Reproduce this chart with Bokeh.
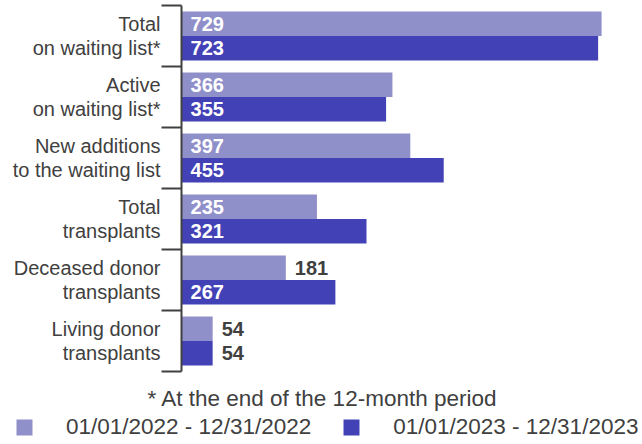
from bokeh.plotting import figure
from bokeh.models import ColumnDataSource, Range1d, FixedTicker, LabelSet, Label, Legend, LegendItem, LinearAxis
from bokeh.core.properties import value
from bokeh.embed import file_html
from bokeh.resources import INLINE

categories = [
    "Total\non waiting list*",
    "Active\non waiting list*",
    "New additions\nto the waiting list",
    "Total\ntransplants",
    "Deceased donor\ntransplants",
    "Living donor\ntransplants",
]
series_names = ["01/01/2022 - 12/31/2022", "01/01/2023 - 12/31/2023"]
values_2022 = [729, 366, 397, 235, 181, 54]
values_2023 = [723, 355, 455, 321, 267, 54]
footnote = "* At the end of the 12-month period"

COLORS = ["#8f8fc9", "#4242b6"]
TEXT = "#404040"
FONT = "Liberation Sans"
INSIDE_MIN = 200

n = len(categories)
W, H = 642, 444

p = figure(width=W, height=H, output_backend="svg", toolbar_location=None,
           x_range=Range1d(-314.2, 800), y_range=Range1d(7.197, -0.082),
           x_axis_location=None, y_axis_location=None,
           min_border=0)
p.outline_line_color = None
p.xgrid.visible = False
p.ygrid.visible = False
p.background_fill_color = "white"
p.border_fill_color = "white"

centers = [i + 0.5 for i in range(n)]
yax = LinearAxis(fixed_location=0, bounds=(0, n),
                 ticker=FixedTicker(ticks=centers, minor_ticks=list(range(n + 1))))
yax.major_label_overrides = {c: categories[i] for i, c in enumerate(centers)}
yax.major_label_text_font = FONT
yax.major_label_text_font_size = "20px"
yax.major_label_text_color = TEXT
yax.major_label_text_line_height = 1.06
yax.major_label_standoff = 1
yax.major_tick_out = 0
yax.major_tick_in = 0
yax.minor_tick_out = 20
yax.minor_tick_in = 0
yax.minor_tick_line_width = 2
yax.minor_tick_line_color = TEXT
yax.axis_line_width = 2
yax.axis_line_color = TEXT
p.add_layout(yax, "left")

renderers = []
for k, (vals, off) in enumerate([(values_2022, 0.3), (values_2023, 0.7)]):
    src = ColumnDataSource(dict(
        y=[i + off for i in range(n)],
        v=vals,
        lx=[0 if v >= INSIDE_MIN else v for v in vals],
        txt=[str(v) for v in vals],
        col=["white" if v >= INSIDE_MIN else TEXT for v in vals],
    ))
    r = p.hbar(y="y", right="v", left=0, height=0.4, source=src,
               fill_color=COLORS[k], line_color=None)
    renderers.append(r)
    p.add_layout(LabelSet(x="lx", y="y", text="txt", source=src, x_offset=9,
                          text_align="left", text_baseline="middle",
                          text_font=value(FONT), text_font_size=value("20px"),
                          text_font_style="bold", text_color="col"))

p.add_layout(Label(x=244.8, y=6.443, text=footnote, text_align="center",
                   text_baseline="middle", text_font=FONT,
                   text_font_size="22.5px", text_color=TEXT))

legend = Legend(items=[LegendItem(label=series_names[i], renderers=[renderers[i]]) for i in range(2)],
                orientation="horizontal", location=(14, 4),
                glyph_width=20, glyph_height=20, label_standoff=32, spacing=30,
                padding=0, margin=0, border_line_color=None,
                background_fill_alpha=0, label_text_font=FONT,
                label_text_font_size="22.5px", label_text_color=TEXT,
                label_height=20)
p.add_layout(legend, "center")

open("out.html", "w").write(file_html(p, INLINE))
